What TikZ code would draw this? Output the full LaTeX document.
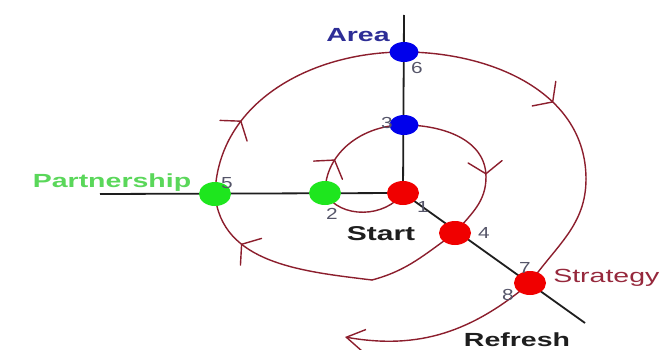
\documentclass[tikz,border=0pt]{standalone}
\usepackage{fontspec}
\setmainfont{Liberation Sans}
\usetikzlibrary{shapes.geometric,arrows.meta,decorations.markings}
\pgfdeclarelayer{bg}
\pgfsetlayers{bg,main}
\definecolor{spiral}{RGB}{140,30,45}
\definecolor{nred}{RGB}{240,0,0}
\definecolor{ngreen}{RGB}{30,230,30}
\definecolor{nblue}{RGB}{0,0,235}
\definecolor{areablue}{RGB}{45,45,150}
\definecolor{partgreen}{RGB}{90,215,90}
\definecolor{stratred}{RGB}{150,40,60}
\definecolor{numgray}{RGB}{85,85,105}
\definecolor{axiscol}{RGB}{30,30,30}
\begin{document}
\begin{tikzpicture}[x=1pt,y=1pt,
  dot/.style={ellipse,inner sep=0pt,minimum width=32pt,minimum height=24pt},
  reddot/.style={dot,fill=nred},
  greendot/.style={dot,fill=ngreen},
  bluedot/.style={dot,fill=nblue,minimum width=29pt,minimum height=20pt},
  num/.style={text=numgray,font=\fontsize{16}{16}\selectfont,xscale=1.3,inner sep=0pt,anchor=base},
  lbl/.style={font=\fontsize{19}{19}\selectfont\bfseries,xscale=1.5,inner sep=0pt,anchor=base},
  axisline/.style={draw=axiscol,line width=1.8pt},
  spiralline/.style={color=spiral,line width=1.4pt,line cap=round},
  midtip/.style={postaction={decorate,decoration={markings,mark=at position #1 with {\draw[spiral,line width=1.4pt,line cap=round,line join=miter] (-12pt,17pt) -- (0pt,0pt) -- (-12pt,-17pt);}}}}
]
\useasboundingbox (0,0) rectangle (662,349);
% nodes
\node[reddot] (n1) at (403,156) {};
\node[greendot] (n2) at (325,156) {};
\node[bluedot] (n3) at (404,224) {};
\node[reddot] (n4) at (455,116) {};
\node[greendot] (n5) at (215,155) {};
\node[bluedot] (n6) at (404,297) {};
\node[reddot] (n7) at (530,66) {};
\coordinate (vtop) at (404,334);
\coordinate (hleft) at (100,155);
\coordinate (dend) at (585,26);
\coordinate (r1) at (486,172);
\coordinate (b1) at (372,69);
\coordinate (r2) at (586,170);
\coordinate (send) at (345,12);
% labels
\node[lbl,text=areablue] (area) at (358,307) {Area};
\node[num] (l6) at (417,276) {6};
\node[num] (l3) at (387,221) {3};
\node[lbl,text=partgreen] (part) at (112,162) {Partnership};
\node[num] (l5) at (227,161) {5};
\node[num] (l2) at (332,130) {2};
\node[num] (l1) at (423,137) {1};
\node[lbl,text=axiscol,font=\fontsize{20}{20}\selectfont\bfseries] (start) at (381,109) {Start};
\node[num] (l4) at (484,111) {4};
\node[num] (l7) at (525,76) {7};
\node[num] (l8) at (508,49) {8};
\node[lbl,text=stratred,font=\fontsize{19}{19}\selectfont,anchor=base west] (strat) at (553,67) {Strategy};
\node[lbl,text=axiscol] (refresh) at (517,3) {Refresh};
\begin{pgfonlayer}{bg}
\fill[white] (0,0) rectangle (662,349);
\draw[axisline] (vtop) -- (n1.center);
\draw[axisline] (hleft) -- (n1.center);
\draw[axisline] (n1.center) -- (dend);
\draw[spiralline] (n1.center) to[out=235,in=-60] (n2.center);
\draw[spiralline,midtip=0.3] (n2.center) to[out=90,in=180] (n3.center);
\draw[spiralline,midtip=0.97] (n3.center) to[out=0,in=90] (r1);
\draw[spiralline] (r1) to[out=-90,in=50] (n4.center);
\draw[spiralline] (n4.center) to[out=215,in=15] (b1);
\draw[spiralline,midtip=0.7] (b1) to[out=173,in=-85] (n5.center);
\draw[spiralline,midtip=0.3] (n5.center) to[out=88,in=180] (n6.center);
\draw[spiralline,midtip=0.65] (n6.center) to[out=0,in=90] (r2);
\draw[spiralline] (r2) to[out=-90,in=55] (n7.center);
\draw[spiralline,-{Straight Barb[length=18pt,width=22pt]}] (n7.center) to[out=220,in=-10] (send);
\end{pgfonlayer}
\end{tikzpicture}
\end{document}
